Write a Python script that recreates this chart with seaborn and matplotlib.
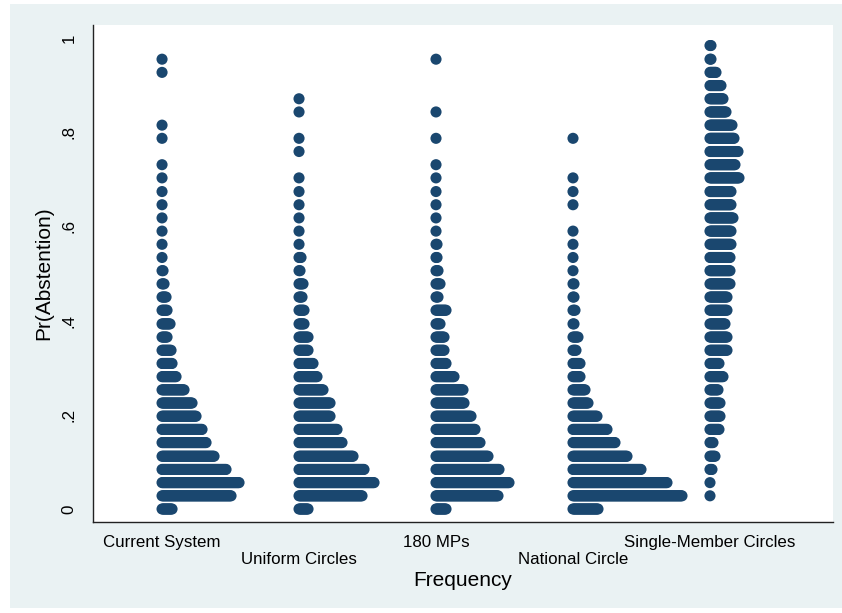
import numpy as np
import pandas as pd
import matplotlib
matplotlib.use("Agg")
import matplotlib.pyplot as plt
import seaborn as sns
from matplotlib.patches import Rectangle

# ---------------- data ----------------
systems = ["Current System", "Uniform Circles", "180 MPs",
           "National Circle", "Single-Member Circles"]

# bin values of Pr(Abstention) (dotplot rows)
bins = [0.000, 0.028, 0.056, 0.084, 0.112, 0.141, 0.169, 0.197, 0.225,
        0.253, 0.281, 0.309, 0.337, 0.365, 0.393, 0.422, 0.450, 0.478,
        0.506, 0.534, 0.562, 0.590, 0.618, 0.646, 0.674, 0.703, 0.731,
        0.759, 0.787, 0.815, 0.843, 0.871, 0.899, 0.927, 0.955, 0.984]

# number of observations in each bin
current_system = [11, 70, 78, 65, 53, 45, 41, 35, 31, 23, 15, 11, 10, 6, 9, 6,
                  5, 3, 2, 1, 1, 1, 1, 1, 1, 1, 1, 0, 1, 1, 0, 0, 0, 1, 1, 0]
uniform_circles = [10, 64, 76, 66, 55, 44, 39, 32, 32, 25, 19, 15, 10, 10, 6, 6,
                   4, 5, 2, 3, 1, 1, 1, 1, 1, 1, 0, 1, 1, 0, 1, 1, 0, 0, 0, 0]
mps_180 = [11, 63, 74, 64, 53, 45, 40, 36, 29, 28, 19, 11, 9, 9, 5, 11,
           3, 5, 3, 2, 2, 1, 1, 1, 1, 1, 1, 0, 1, 0, 1, 0, 0, 0, 1, 0]
national_circle = [26, 110, 95, 69, 55, 43, 35, 25, 16, 13, 8, 8, 4, 6, 2, 3,
                   2, 2, 1, 1, 1, 1, 0, 1, 1, 1, 0, 0, 1, 0, 0, 0, 0, 0, 0, 0]
single_member = [0, 1, 1, 3, 6, 4, 10, 11, 11, 9, 14, 10, 18, 18, 16, 18,
                 18, 21, 21, 21, 22, 22, 24, 22, 22, 30, 26, 29, 25, 23, 17,
                 14, 12, 7, 2, 2]

all_counts = [current_system, uniform_circles, mps_180, national_circle,
              single_member]

NAVY = "#1a476f"
BG = "#eaf2f3"
DOT_STEP = 1.0 / 137.0   # horizontal offset between stacked dots (one pixel)

rows = []
for i, (name, counts) in enumerate(zip(systems, all_counts)):
    for b, c in zip(bins, counts):
        for j in range(c):
            rows.append((name, i + j * DOT_STEP, b))
df = pd.DataFrame(rows, columns=["system", "pos", "prob"])

# ---------------- figure ----------------
sns.set_theme(style="white")
plt.rcParams["font.family"] = ["Liberation Sans", "DejaVu Sans"]
plt.rcParams["axes.labelcolor"] = "black"
plt.rcParams["text.color"] = "black"

W, H = 842, 613
fig = plt.figure(figsize=(W / 100, H / 100), dpi=100)
fig.patch.set_facecolor("white")
fig.patches.append(Rectangle((10 / W, 1 - 608 / H), (W - 10) / W, (608 - 4) / H,
                             transform=fig.transFigure, facecolor=BG,
                             edgecolor="none", zorder=-10))

ax_l, ax_r, ax_t, ax_b = 93, 833, 25, 522
ax = fig.add_axes([ax_l / W, 1 - ax_b / H, (ax_r - ax_l) / W, (ax_b - ax_t) / H])
ax.set_facecolor("white")

sns.scatterplot(data=df, x="pos", y="prob", ax=ax, color=NAVY, s=64,
                edgecolor="none", linewidth=0, legend=False)

ax.set_ylim(-0.0276, 1.0276)
ax.set_xlim(-0.504, 4.898)

ax.set_yticks([0, 0.2, 0.4, 0.6, 0.8, 1.0])
ax.set_yticklabels(["0", ".2", ".4", ".6", ".8", "1"], rotation=90,
                   va="center", fontsize=12.2)
ax.set_xticks(range(len(systems)))
ax.set_xticklabels(systems, fontsize=12.2)

for sp in ["top", "right"]:
    ax.spines[sp].set_visible(False)
for sp in ["left", "bottom"]:
    ax.spines[sp].set_color("#222222")
    ax.spines[sp].set_linewidth(1.0)

ax.tick_params(axis="both", which="major", length=6, width=1.0,
               color="#222222", labelcolor="black", direction="out")
ax.tick_params(axis="y", pad=6)
ax.tick_params(axis="x", pad=3.6)
for k, t in enumerate(ax.xaxis.get_major_ticks()):
    if k % 2 == 1:
        t.set_pad(3.6 + 12)

ax.set_xlabel("Frequency", fontsize=15, color="black")
ax.set_ylabel("Pr(Abstention)", fontsize=15, color="black")
ax.xaxis.set_label_coords(0.5, -(571 - ax_b) / (ax_b - ax_t))
ax.yaxis.set_label_coords(-(ax_l - 53.5) / (ax_r - ax_l), 0.5)

fig.savefig("out.png", dpi=100)
